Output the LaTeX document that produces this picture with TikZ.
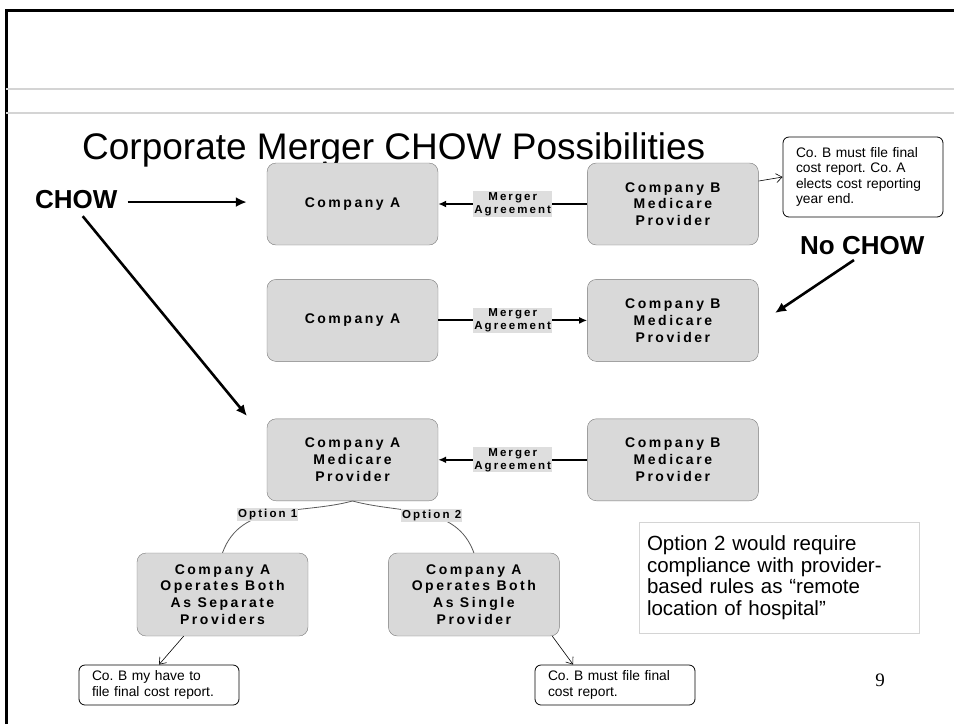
\documentclass[tikz,border=0pt]{standalone}
\usepackage{fontspec}
\setmainfont{Liberation Sans}
\newfontfamily\firmfont[LetterSpace=18]{Liberation Sans}
\newfontfamily\pagefont{Liberation Serif}
\usetikzlibrary{arrows.meta, positioning}
\definecolor{boxgray}{RGB}{217,217,217}
\definecolor{edgegray}{RGB}{120,120,120}
\definecolor{taggray}{RGB}{222,222,222}
\definecolor{rulegray}{RGB}{212,212,212}
\frenchspacing
\hyphenpenalty=10000

\begin{document}
\begin{tikzpicture}[x=1pt, y=1pt,
    firm/.style = {draw=edgegray, fill=boxgray, rounded corners=9pt, minimum width=171pt, minimum height=82pt, inner sep=0pt, align=center, font=\firmfont\bfseries\fontsize{14}{16.8}\selectfont},
    tag/.style = {fill=taggray, inner sep=1pt, align=center, font=\firmfont\bfseries\fontsize{11.5}{13}\selectfont},
    note/.style = {draw, line width=0.8pt, rounded corners=6pt, minimum height=40pt, text width=134pt, inner xsep=13pt, inner ysep=3pt, align=left, font=\fontsize{13.8}{15.3}\selectfont},
    merge/.style = {line width=2pt, -{Latex[length=8pt, width=7pt]}},
    chow/.style = {line width=2.6pt, -{Latex[length=11pt, width=10pt]}},
    hint/.style = {line width=0.6pt, -{Straight Barb[length=6pt, width=9pt]}},
    branch/.style = {draw=black!65, line width=0.8pt}]
    \useasboundingbox (0,0) rectangle (954,-724);

    % slide frame
    \draw[line width=3pt] (6,-724) -- (6,-10) -- (954,-10);
    \draw[rulegray, line width=1.2pt] (6,-89) -- (954,-89) (6,-113) -- (954,-113);

    \node[anchor=base west, inner sep=0pt, font=\fontsize{37}{40}\selectfont] (title) at (82,-159) {Corporate Merger CHOW Possibilities};

    \node[firm] (A1) at (352.5,-204) {Company A};
    \node[firm, right=149pt of A1] (B1) {Company B\\Medicare\\Provider};
    \node[firm, below=34pt of A1] (A2) {Company A};
    \node[firm, right=149pt of A2] (B2) {Company B\\Medicare\\Provider};
    \node[firm, below=57pt of A2] (A3) {Company A\\Medicare\\Provider};
    \node[firm, right=149pt of A3] (B3) {Company B\\Medicare\\Provider};
    \node[firm, minimum height=83pt] (L) at (222.5,-594.5) {Company A\\Operates Both\\As Separate\\Providers};
    \node[firm, minimum height=83pt, right=80pt of L] (R) {Company A\\Operates Both\\As Single\\Provider};

    \node[note, minimum height=80pt] (n1) at (863,-177) {Co. B must file final\\cost report. Co. A\\elects cost reporting\\year end.};
    \node[note] (n2) at (159,-685) {Co. B my have to\\file final cost report.};
    \node[note] (n3) at (615,-685) {Co. B must file final\\cost report.};

    \node[draw=rulegray, line width=1pt, minimum width=280pt, minimum height=111pt, text width=264pt, inner xsep=8pt, align=left, font=\fontsize{20.5}{21.5}\selectfont] (opt) at (779,-577.5) {Option 2 would require\\compliance with provider-\\based rules as “remote\\location of hospital”};
    \node[font=\pagefont\fontsize{19}{20}\selectfont] (page) at (880,-680) {9};

    \node[anchor=base west, inner sep=0pt, font=\bfseries\fontsize{26}{28}\selectfont] (chow) at (35,-208) {CHOW};
    \node[anchor=base west, inner sep=0pt, font=\bfseries\fontsize{26}{28}\selectfont] (nochow) at (800,-254) {No CHOW};
    \coordinate (chowtip) at (247,-416);
    \coordinate (nochowtip) at (775,-313);

    \draw[merge] (B1) -- node[tag] {Merger\\Agreement} (A1);
    \draw[merge] (A2) -- node[tag] {Merger\\Agreement} (B2);
    \draw[merge] (B3) -- node[tag] {Merger\\Agreement} (A3);

    \draw[branch] (A3.south) to[out=195, in=70] node[tag, pos=0.55] {Option 1} (L.north);
    \draw[branch] (A3.south) to[out=-15, in=110] node[tag, pos=0.55] {Option 2} (R.north);

    \draw[hint] (B1.15) -- (n1.west);
    \draw[hint] (L.227) -- (n2.north);
    \draw[hint] (R.332) -- (n3.154);

    \draw[chow, shorten <=10pt, shorten >=20pt] ([yshift=-3pt]chow.east) -- ([yshift=-3pt]chow.east -| A1.west);
    \draw[chow, shorten <=10pt] (chow.south) -- (chowtip);
    \draw[chow, shorten <=10pt] (nochow.south) -- (nochowtip);
\end{tikzpicture}
\end{document}
